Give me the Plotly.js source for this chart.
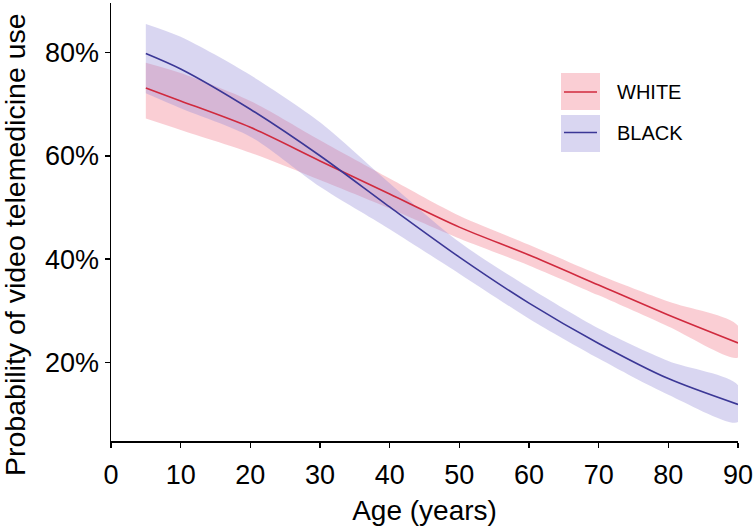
<!DOCTYPE html>
<html>
<head>
<meta charset="utf-8">
<script src="https://cdn.plot.ly/plotly-3.0.1.min.js"></script>
<style>html,body{margin:0;padding:0;background:#fff;}#chart{width:753px;height:528px;}</style>
</head>
<body>
<div id="chart"></div>
<script>
// Age (years)
const ages = [5, 10, 20, 30, 40, 50, 60, 70, 80, 90];
// WHITE: predicted probability (%) and 95% band
const whiteMean  = [73.1, 70.6, 65.5, 59.0, 52.6, 46.2, 40.8, 35.0, 29.2, 23.8];
const whiteUpper = [78.0, 76.0, 70.6, 63.0, 55.6, 48.4, 42.8, 37.0, 31.8, 27.1];
const whiteLower = [67.2, 65.0, 60.6, 55.3, 49.8, 44.0, 38.8, 33.0, 27.0, 21.0];
// BLACK: predicted probability (%) and 95% band
const blackMean  = [79.8, 76.8, 69.0, 60.0, 50.1, 40.4, 31.5, 23.7, 16.9, 11.9];
const blackUpper = [85.5, 83.0, 75.6, 66.5, 54.7, 43.3, 34.5, 26.6, 20.3, 15.6];
const blackLower = [72.1, 69.2, 63.7, 54.0, 45.8, 37.2, 28.5, 20.8, 13.8, 8.5];
const seriesNames = ["WHITE", "BLACK"];
const xTicks = [0, 10, 20, 30, 40, 50, 60, 70, 80, 90];
const yTicks = [20, 40, 60, 80];

const redLine = "#d02a3e";
const blueLine = "#3b3796";
const pinkFill = "rgba(240,120,135,0.36)";
const lavFill = "rgba(150,140,215,0.36)";

function band(upper, lower, fill) {
  return {
    x: ages.concat(ages.slice().reverse()),
    y: upper.concat(lower.slice().reverse()),
    type: "scatter", mode: "lines", fill: "toself", fillcolor: fill,
    line: {width: 0, shape: "spline", smoothing: 0.8, color: "rgba(0,0,0,0)"},
    hoverinfo: "skip", showlegend: false
  };
}
const traces = [
  band(whiteUpper, whiteLower, pinkFill),
  band(blackUpper, blackLower, lavFill),
  {x: ages, y: whiteMean, type: "scatter", mode: "lines", name: seriesNames[0],
   line: {color: redLine, width: 1.6, shape: "spline", smoothing: 0.8}, showlegend: false},
  {x: ages, y: blackMean, type: "scatter", mode: "lines", name: seriesNames[1],
   line: {color: blueLine, width: 1.6, shape: "spline", smoothing: 0.8}, showlegend: false}
];

const font = "Liberation Sans, Arial, Helvetica, sans-serif";
const px = v => (v - 111) / 627;
const py = v => 1 - (v - 3) / 438;
const layout = {
  width: 753, height: 528,
  margin: {l: 111, r: 15, t: 3, b: 87, pad: 0},
  paper_bgcolor: "#fff", plot_bgcolor: "#fff",
  font: {family: font, color: "#000"},
  xaxis: {
    range: [0, 90], tickvals: xTicks, ticktext: xTicks.map(String),
    showgrid: false, zeroline: false, showline: true, linecolor: "#000", linewidth: 1.5,
    ticks: "outside", ticklen: 5, tickwidth: 1.5, tickcolor: "#000",
    ticklabelstandoff: 4, ticklabeloverflow: "allow",
    tickfont: {size: 27, family: font},
    title: {text: "Age (years)", font: {size: 28, family: font}, standoff: 11}
  },
  yaxis: {
    range: [4.83, 89.55], tickvals: yTicks, ticktext: yTicks.map(v => v + "%"),
    showgrid: false, zeroline: false, showline: true, linecolor: "#000", linewidth: 1.5,
    ticks: "outside", ticklen: 5, tickwidth: 1.5, tickcolor: "#000",
    ticklabeloverflow: "allow",
    tickfont: {size: 27, family: font}
  },
  shapes: [
    {type: "rect", xref: "paper", yref: "paper", x0: px(561), x1: px(600),
     y0: py(110), y1: py(73), fillcolor: pinkFill, line: {width: 0}},
    {type: "line", xref: "paper", yref: "paper", x0: px(564), x1: px(597),
     y0: py(92), y1: py(92), line: {color: redLine, width: 1.6}},
    {type: "rect", xref: "paper", yref: "paper", x0: px(561), x1: px(600),
     y0: py(152), y1: py(115), fillcolor: lavFill, line: {width: 0}},
    {type: "line", xref: "paper", yref: "paper", x0: px(564), x1: px(597),
     y0: py(132.5), y1: py(132.5), line: {color: blueLine, width: 1.6}}
  ],
  annotations: [
    {xref: "paper", yref: "paper", x: px(615), y: py(92), xanchor: "left", yanchor: "middle",
     text: seriesNames[0], showarrow: false, font: {size: 20, family: font, color: "#000"}},
    {xref: "paper", yref: "paper", x: px(615), y: py(133), xanchor: "left", yanchor: "middle",
     text: seriesNames[1], showarrow: false, font: {size: 20, family: font, color: "#000"}},
    {xref: "paper", yref: "paper", x: px(15), y: py(245), xanchor: "center", yanchor: "middle",
     textangle: -90, text: "Probability of video telemedicine use", showarrow: false,
     font: {size: 28.5, family: font, color: "#000"}}
  ],
  showlegend: false
};
Plotly.newPlot("chart", traces, layout, {displayModeBar: false, staticPlot: true});
</script>
</body>
</html>
